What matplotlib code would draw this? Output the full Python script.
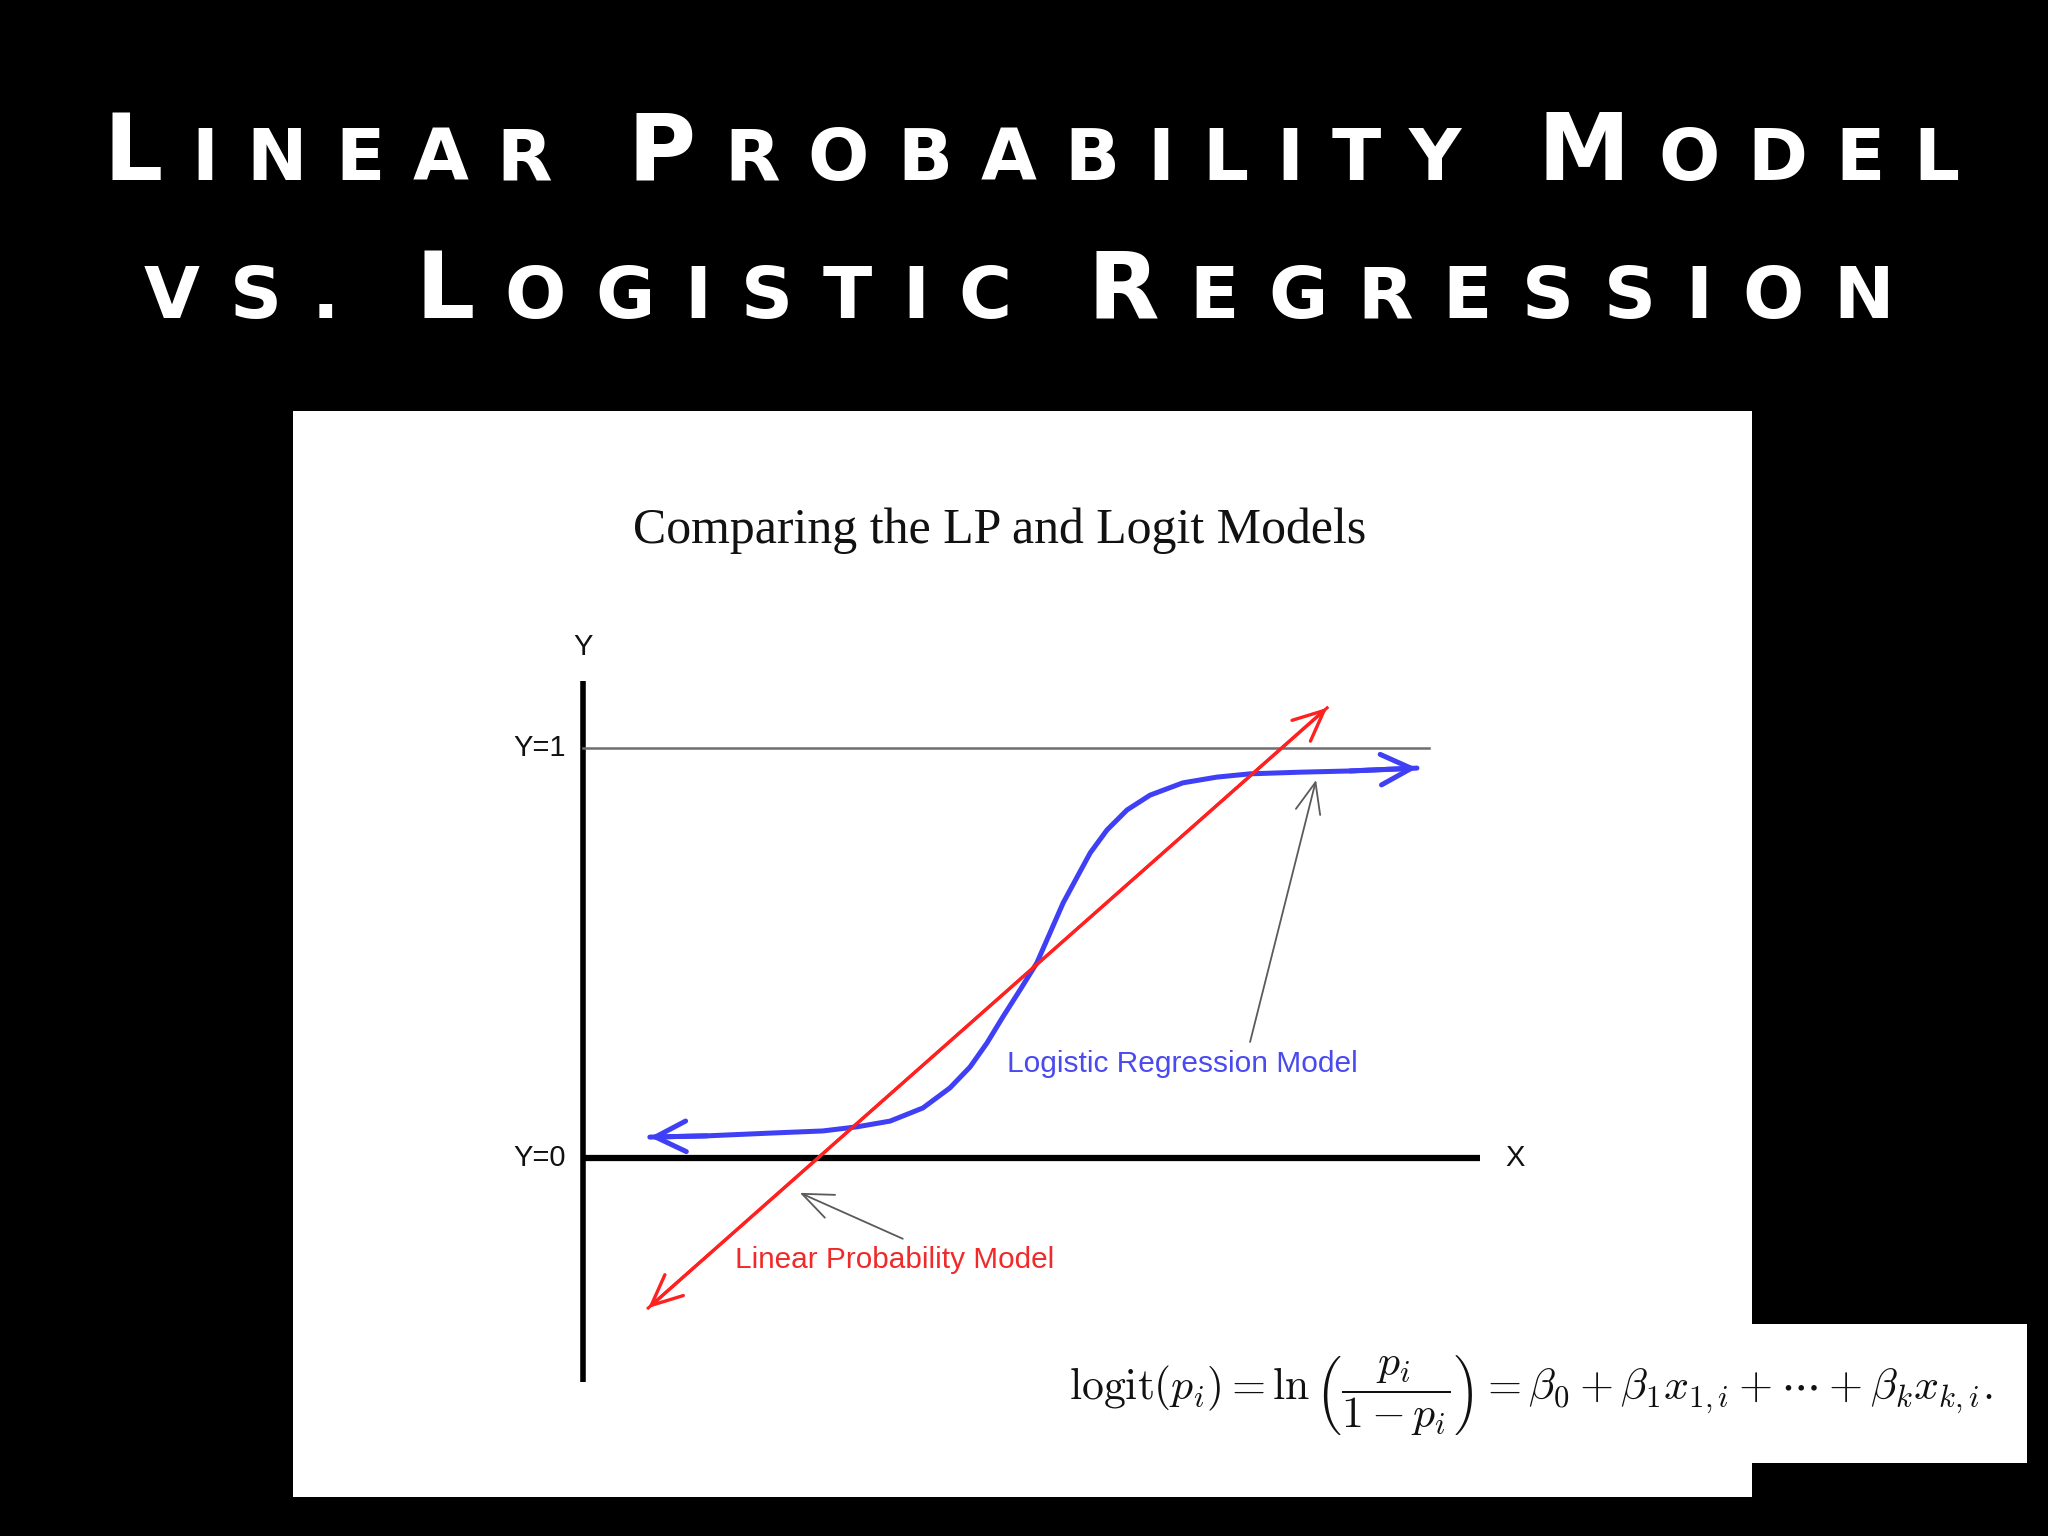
import matplotlib
matplotlib.use('Agg')
import matplotlib.pyplot as plt
from matplotlib.patches import Rectangle

plt.rcParams['mathtext.fontset'] = 'cm'

# slide heading and chart texts
title_lines = ['Linear Probability Model', 'vs. Logistic Regression']
chart_title = 'Comparing the LP and Logit Models'
logit_label = 'Logistic Regression Model'
lpm_label = 'Linear Probability Model'
axis_labels = ['Y', 'X']
level_labels = ['Y=0', 'Y=1']
levels = [0.0, 1.0]
formula = (r'$\mathrm{logit}(p_i) = \ln\left(\dfrac{p_i}{1-p_i}\right) = '
           r'\beta_0 + \beta_1 x_{1,i} + \cdots + \beta_k x_{k,i}.$')

# logistic curve (x in Y-units, Y=0 -> 0, Y=1 -> 1)
logit_x = [0.163, 0.302, 0.463, 0.585, 0.668, 0.749, 0.829, 0.895, 0.944,
           0.985, 1.024, 1.066, 1.107, 1.139, 1.171, 1.205, 1.237, 1.278,
           1.327, 1.383, 1.463, 1.546, 1.627, 1.749, 1.871, 2.034]
logit_y = [0.051, 0.054, 0.061, 0.066, 0.076, 0.090, 0.122, 0.171, 0.222,
           0.280, 0.344, 0.410, 0.476, 0.549, 0.622, 0.685, 0.744, 0.800,
           0.849, 0.885, 0.915, 0.929, 0.937, 0.941, 0.944, 0.951]

# linear probability model, both ends
lpm_x = [0.159, 1.815]
lpm_y = [-0.366, 1.098]

# axis extents
y_axis_range = [-0.546, 1.163]
x_axis_end = 2.188
top_line_end = 2.063

# pointer arrows (tail, tip)
lpm_pointer = [(0.780, -0.197), (0.529, -0.085)]
logit_pointer = [(1.627, 0.283), (1.788, 0.922)]

W, H = 2048, 1536
X0, Y0, S = 583, 1158, 410   # pixel of origin, pixels per unit

BLUE = '#3f3ff5'
RED = '#ff2020'


def dx(px):
    return (px - X0) / S


def dy(py):
    return (Y0 - py) / S


fig = plt.figure(figsize=(W / 100, H / 100), dpi=100, facecolor='black')
ax = fig.add_axes([0, 0, 1, 1])
ax.set_xlim(dx(0), dx(W))
ax.set_ylim(dy(H), dy(0))
ax.axis('off')
renderer = fig.canvas.get_renderer()


def fit_width(t, target):
    w = t.get_window_extent(renderer).width
    t.set_fontsize(t.get_fontsize() * target / w)


# white panel and the pasted formula box
ax.add_patch(Rectangle((dx(293), dy(1497)), (1752 - 293) / S, (1497 - 411) / S,
                       facecolor='white', edgecolor='none', zorder=0))
ax.add_patch(Rectangle((dx(1062), dy(1463)), (2027 - 1062) / S, (1463 - 1324) / S,
                       facecolor='white', edgecolor='none', zorder=6))

# axes of the sketch
ax.plot([0, 0], y_axis_range, color='black', lw=4, solid_capstyle='butt', zorder=2)
ax.plot([0, x_axis_end], [levels[0]] * 2, color='black', lw=4.5, solid_capstyle='butt', zorder=2)
ax.plot([0, top_line_end], [levels[1]] * 2, color='#6e6e6e', lw=1.8, zorder=2)

for lab, lv in zip(level_labels, levels):
    ax.text(dx(566), lv, lab, ha='right', va='center', fontsize=21,
            family='Liberation Sans', color='#111111')
ax.text(0, dy(647), axis_labels[0], ha='center', va='center', fontsize=21,
        family='Liberation Sans', color='#111111')
ax.text(dx(1515), levels[0], axis_labels[1], ha='center', va='center', fontsize=21,
        family='Liberation Sans', color='#111111')

# logistic curve with arrow ends
ax.plot(logit_x, logit_y, color=BLUE, lw=3.6, solid_capstyle='round',
        solid_joinstyle='round', zorder=3)
head = dict(arrowstyle='->,head_length=1.1,head_width=0.55', color=BLUE, lw=3.6,
            mutation_scale=20, shrinkA=0, shrinkB=0, capstyle='round', joinstyle='round')
ax.annotate('', xy=(logit_x[0], logit_y[0]), xytext=(logit_x[1], logit_y[1]),
            arrowprops=head, zorder=3)
ax.annotate('', xy=(logit_x[-1], logit_y[-1]), xytext=(logit_x[-2], logit_y[-2]),
            arrowprops=head, zorder=3)

# linear probability line, arrows both ways
ax.plot(lpm_x, lpm_y, color=RED, lw=2.2, zorder=4)
ax.annotate('', xy=(lpm_x[1], lpm_y[1]), xytext=(lpm_x[0], lpm_y[0]),
            arrowprops=dict(arrowstyle='<->,head_length=1.1,head_width=0.5', color=RED,
                            lw=2.4, mutation_scale=20, shrinkA=0, shrinkB=0,
                            capstyle='round', joinstyle='round'), zorder=4)

# pointers from the labels
for tail, tip in [lpm_pointer, logit_pointer]:
    ax.annotate('', xy=tip, xytext=tail,
                arrowprops=dict(arrowstyle='->,head_length=1.1,head_width=0.45',
                                color='#5a5a5a', lw=1.3, mutation_scale=20,
                                shrinkA=0, shrinkB=0), zorder=2)

t = ax.text(dx(1007), dy(1072), logit_label, ha='left', va='baseline', fontsize=18,
            family='Liberation Sans', color='#4a4af0')
fit_width(t, 350)
t = ax.text(dx(735), dy(1268), lpm_label, ha='left', va='baseline', fontsize=18,
            family='Liberation Sans', color='#f02a2a')
fit_width(t, 318)

t = ax.text(dx(1000), dy(543), chart_title, ha='center', va='baseline', fontsize=34,
            family='Liberation Serif', color='#111111')
fit_width(t, 735)

t = ax.text(dx(1531), dy(1395), formula, ha='center', va='center', fontsize=34,
            color='#111111', zorder=7)
fit_width(t, 924)


# slide heading in spaced small caps, one glyph at a time
def small_caps_line(text, left, right, baseline, big=67, small=52, word_gap=76):
    words = []
    for word in text.split(' '):
        glyphs = []
        for ch in word:
            size = big if ch.isupper() else small
            g = fig.text(0, 0, ch.upper(), fontsize=size, fontweight='bold',
                         family='DejaVu Sans', color='white', ha='left', va='baseline')
            glyphs.append((g, g.get_window_extent(renderer).width))
        words.append(glyphs)
    n_gaps = sum(len(w) - 1 for w in words)
    ink = sum(w for glyphs in words for _, w in glyphs) + word_gap * (len(words) - 1)
    gap = (right - left - ink) / n_gaps
    x = left
    for glyphs in words:
        for g, w in glyphs:
            g.set_position((x / W, 1 - baseline / H))
            x += w + gap
        x += word_gap - gap


small_caps_line(title_lines[0], 104, 1959, 180)
small_caps_line(title_lines[1], 144, 1894, 318)

fig.savefig('out.png', dpi=100, facecolor='black')
